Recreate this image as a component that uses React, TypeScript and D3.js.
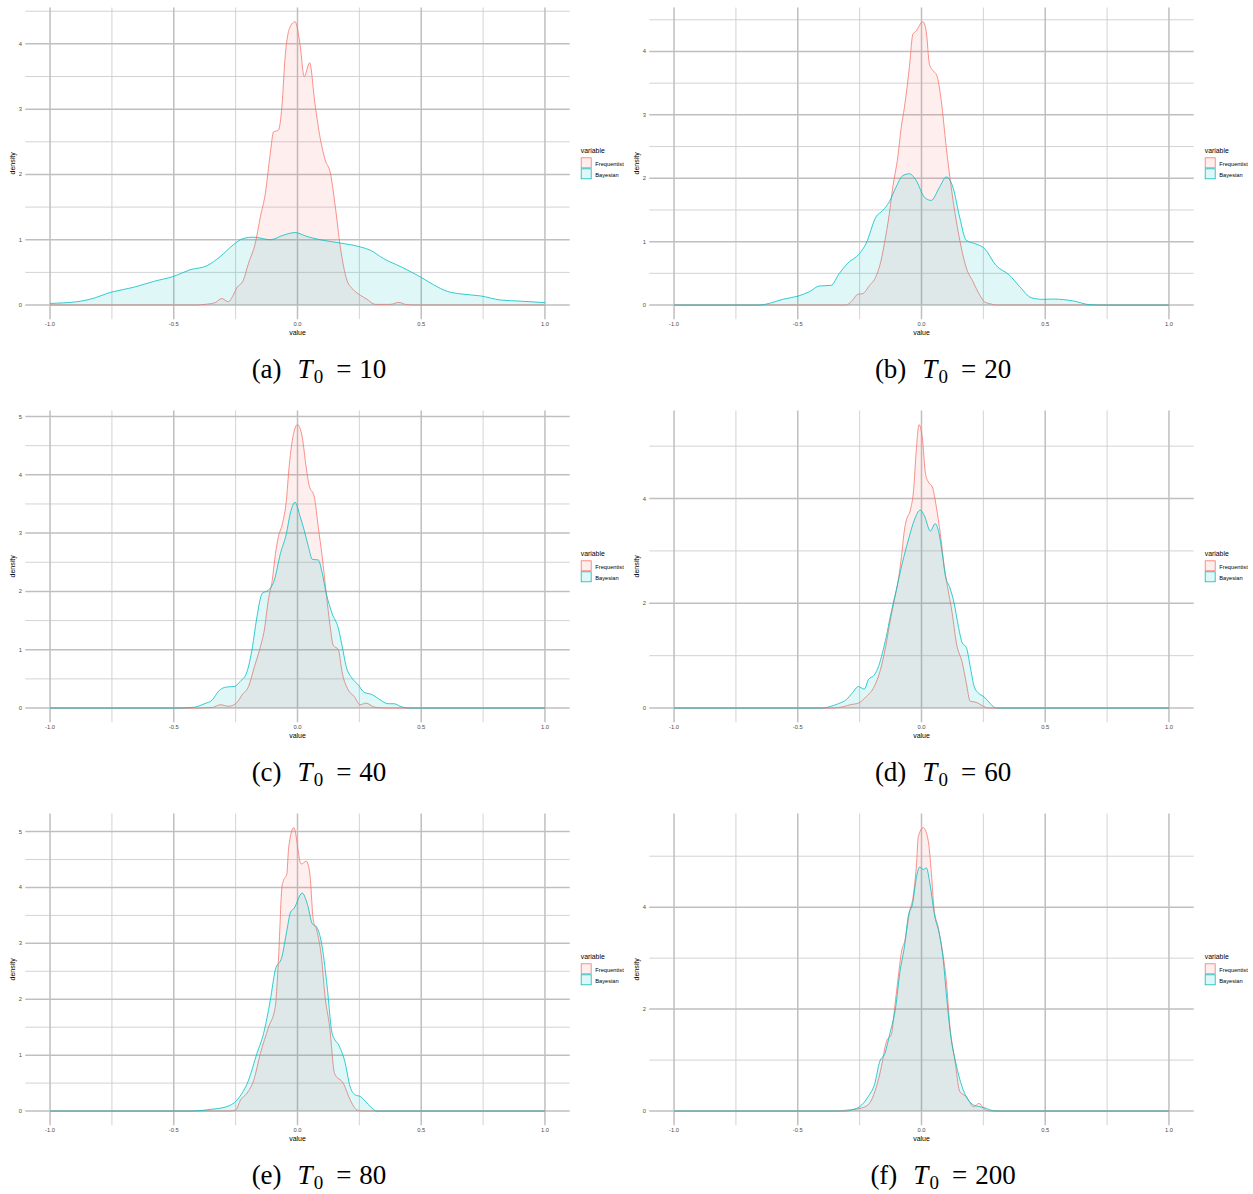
import * as d3 from "d3";

type Pt = [number, number];

// series names and colours (ggplot default hue palette)
const variables = ["Frequentist", "Bayesian"];
const colors = ["#F8766D", "#00BFC4"];

const panelLetters = ["a", "b", "c", "d", "e", "f"];
const t0Values = [10, 20, 40, 60, 80, 200];

const xTicks = [-1, -0.5, 0, 0.5, 1];
const xTickLabels = ["-1.0", "-0.5", "0.0", "0.5", "1.0"];
const xMinor = [-0.75, -0.25, 0.25, 0.75];

const yTicksA = [0, 1, 2, 3, 4];
const yTicksB = [0, 1, 2, 3, 4];
const yTicksC = [0, 1, 2, 3, 4, 5];
const yTicksD = [0, 2, 4];
const yTicksE = [0, 1, 2, 3, 4, 5];
const yTicksF = [0, 2, 4];

// density curves: [value, density]
const freqA: Pt[] = [
  [-1, 0], [-0.41, 0], [-0.374, 0.01], [-0.333, 0.036], [-0.306, 0.1], [-0.28, 0.05], [-0.26, 0.15],
  [-0.246, 0.26], [-0.219, 0.38], [-0.198, 0.64], [-0.171, 0.94], [-0.15, 1.35], [-0.13, 1.71],
  [-0.11, 2.32], [-0.097, 2.65], [-0.077, 2.68], [-0.063, 3.04], [-0.05, 3.8], [-0.03, 4.26],
  [-0.01, 4.34], [0.01, 4.0], [0.027, 3.5], [0.049, 3.71], [0.07, 3.1], [0.092, 2.55], [0.112, 2.22],
  [0.133, 2.02], [0.153, 1.5], [0.173, 0.89], [0.2, 0.38], [0.227, 0.23], [0.254, 0.15], [0.28, 0.09],
  [0.314, 0.01], [0.375, 0.01], [0.41, 0.04], [0.436, 0.01], [0.47, 0], [1, 0],
];
const bayesA: Pt[] = [
  [-1, 0.025], [-0.893, 0.05], [-0.84, 0.087], [-0.75, 0.2], [-0.664, 0.27], [-0.583, 0.36],
  [-0.5, 0.44], [-0.434, 0.54], [-0.367, 0.6], [-0.313, 0.74], [-0.26, 0.92], [-0.219, 1.02],
  [-0.178, 1.04], [-0.11, 1.0], [-0.057, 1.07], [-0.01, 1.11], [0.038, 1.05], [0.092, 1.0],
  [0.173, 0.95], [0.254, 0.89], [0.294, 0.84], [0.348, 0.71], [0.416, 0.59], [0.497, 0.43],
  [0.55, 0.31], [0.605, 0.21], [0.66, 0.17], [0.74, 0.14], [0.82, 0.077], [0.9, 0.06], [1, 0.036],
];

const freqB: Pt[] = [
  [-1, 0], [-0.305, 0], [-0.278, 0.08], [-0.258, 0.17], [-0.238, 0.18], [-0.21, 0.31], [-0.184, 0.45],
  [-0.163, 0.71], [-0.15, 0.97], [-0.13, 1.44], [-0.116, 1.86], [-0.096, 2.33], [-0.082, 2.8],
  [-0.069, 3.12], [-0.049, 3.75], [-0.035, 4.27], [-0.022, 4.32], [0.005, 4.47], [0.019, 4.32],
  [0.032, 3.8], [0.046, 3.7], [0.062, 3.62], [0.08, 3.22], [0.1, 2.49], [0.12, 1.86], [0.14, 1.34],
  [0.16, 0.92], [0.18, 0.6], [0.208, 0.37], [0.235, 0.16], [0.255, 0.05], [0.282, 0.016], [0.3, 0], [1, 0],
];
const bayesB: Pt[] = [
  [-1, 0], [-0.656, 0], [-0.615, 0.026], [-0.561, 0.09], [-0.5, 0.14], [-0.453, 0.21], [-0.413, 0.3],
  [-0.366, 0.31], [-0.332, 0.5], [-0.298, 0.66], [-0.251, 0.81], [-0.224, 0.97], [-0.184, 1.39],
  [-0.157, 1.49], [-0.13, 1.63], [-0.103, 1.86], [-0.076, 2.04], [-0.049, 2.07], [-0.022, 1.97],
  [0.012, 1.7], [0.039, 1.65], [0.073, 1.86], [0.1, 2.02], [0.127, 1.86], [0.154, 1.39], [0.181, 1.02],
  [0.215, 0.97], [0.255, 0.89], [0.3, 0.63], [0.356, 0.47], [0.397, 0.29], [0.444, 0.115], [0.49, 0.09],
  [0.534, 0.094], [0.615, 0.063], [0.68, 0.005], [0.72, 0], [1, 0],
];

const freqC: Pt[] = [
  [-1, 0], [-0.408, 0], [-0.344, 0.01], [-0.311, 0.057], [-0.279, 0.03], [-0.247, 0.085], [-0.223, 0.23],
  [-0.198, 0.37], [-0.174, 0.71], [-0.15, 1.05], [-0.134, 1.34], [-0.118, 1.85], [-0.102, 2.19],
  [-0.089, 2.65], [-0.077, 2.94], [-0.061, 3.16], [-0.045, 3.56], [-0.034, 4.13], [-0.021, 4.59],
  [0, 4.86], [0.019, 4.65], [0.035, 4.13], [0.047, 3.82], [0.068, 3.62], [0.084, 3.1], [0.1, 2.59],
  [0.116, 1.97], [0.132, 1.4], [0.144, 1.08], [0.165, 1.0], [0.181, 0.6], [0.205, 0.31], [0.229, 0.2],
  [0.253, 0.057], [0.277, 0.085], [0.31, 0.017], [0.35, 0], [1, 0],
];
const bayesC: Pt[] = [
  [-1, 0], [-0.49, 0], [-0.424, 0.01], [-0.376, 0.074], [-0.344, 0.14], [-0.319, 0.29], [-0.287, 0.36],
  [-0.255, 0.37], [-0.231, 0.46], [-0.206, 0.6], [-0.182, 1.05], [-0.166, 1.51], [-0.142, 1.97],
  [-0.118, 2.02], [-0.094, 2.19], [-0.069, 2.65], [-0.045, 2.99], [-0.029, 3.34], [-0.01, 3.53],
  [0.011, 3.28], [0.027, 3.05], [0.044, 2.77], [0.06, 2.55], [0.084, 2.54], [0.1, 2.31], [0.116, 1.97],
  [0.14, 1.62], [0.165, 1.37], [0.181, 1.05], [0.197, 0.71], [0.221, 0.51], [0.245, 0.4], [0.269, 0.27],
  [0.302, 0.23], [0.334, 0.14], [0.366, 0.074], [0.39, 0.074], [0.415, 0.03], [0.447, 0], [1, 0],
];

const freqD: Pt[] = [
  [-1, 0], [-0.368, 0], [-0.312, 0.03], [-0.288, 0.063], [-0.255, 0.095], [-0.223, 0.22], [-0.191, 0.41],
  [-0.166, 0.73], [-0.145, 1.17], [-0.126, 1.68], [-0.11, 2.06], [-0.094, 2.44], [-0.081, 2.89],
  [-0.069, 3.4], [-0.061, 3.59], [-0.045, 3.78], [-0.032, 4.16], [-0.021, 4.92], [-0.01, 5.41],
  [0.003, 5.17], [0.016, 4.48], [0.027, 4.32], [0.044, 4.22], [0.06, 3.84], [0.076, 3.33], [0.092, 2.7],
  [0.105, 2.32], [0.124, 1.81], [0.141, 1.24], [0.165, 0.86], [0.181, 0.48], [0.197, 0.13], [0.221, 0.11],
  [0.246, 0.044], [0.27, 0], [1, 0],
];
const bayesD: Pt[] = [
  [-1, 0], [-0.4, 0], [-0.368, 0.03], [-0.336, 0.083], [-0.304, 0.16], [-0.279, 0.29], [-0.255, 0.41],
  [-0.231, 0.36], [-0.215, 0.54], [-0.191, 0.63], [-0.174, 0.79], [-0.158, 1.05], [-0.142, 1.37],
  [-0.126, 1.75], [-0.102, 2.25], [-0.078, 2.76], [-0.053, 3.21], [-0.029, 3.59], [-0.005, 3.78],
  [0.011, 3.68], [0.036, 3.38], [0.055, 3.52], [0.071, 3.33], [0.084, 2.95], [0.097, 2.51], [0.113, 2.32],
  [0.132, 2.0], [0.149, 1.56], [0.165, 1.24], [0.181, 1.16], [0.197, 0.79], [0.213, 0.41], [0.229, 0.29],
  [0.254, 0.21], [0.278, 0.083], [0.302, 0], [1, 0],
];

const freqE: Pt[] = [
  [-1, 0], [-0.27, 0], [-0.25, 0.02], [-0.23, 0.2], [-0.204, 0.32], [-0.177, 0.55], [-0.15, 1.03],
  [-0.117, 1.5], [-0.09, 1.86], [-0.077, 2.7], [-0.063, 4.0], [-0.057, 4.12], [-0.043, 4.24],
  [-0.036, 4.7], [-0.015, 5.07], [0.015, 4.42], [0.036, 4.47], [0.05, 4.24], [0.064, 3.41], [0.078, 3.23],
  [0.098, 2.7], [0.11, 2.1], [0.13, 1.5], [0.15, 0.67], [0.186, 0.49], [0.213, 0.2], [0.24, 0.02],
  [0.26, 0], [1, 0],
];
const bayesE: Pt[] = [
  [-1, 0], [-0.43, 0], [-0.35, 0.03], [-0.285, 0.08], [-0.238, 0.23], [-0.198, 0.55], [-0.164, 1.03],
  [-0.137, 1.39], [-0.11, 1.98], [-0.09, 2.52], [-0.063, 2.76], [-0.043, 3.23], [-0.028, 3.56],
  [-0.015, 3.62], [0.019, 3.9], [0.04, 3.7], [0.06, 3.35], [0.078, 3.29], [0.1, 2.93], [0.12, 2.22],
  [0.14, 1.39], [0.17, 1.15], [0.19, 0.91], [0.213, 0.43], [0.233, 0.29], [0.254, 0.26], [0.294, 0.08],
  [0.32, 0], [1, 0],
];

const freqF: Pt[] = [
  [-1, 0], [-0.34, 0], [-0.3, 0.02], [-0.25, 0.05], [-0.216, 0.12], [-0.182, 0.48], [-0.162, 0.87],
  [-0.142, 1.36], [-0.121, 1.52], [-0.108, 2.05], [-0.094, 2.63], [-0.081, 3.12], [-0.067, 3.35],
  [-0.047, 3.94], [-0.034, 4.2], [-0.02, 4.86], [-0.013, 5.38], [0.007, 5.56], [0.027, 5.31],
  [0.04, 4.66], [0.05, 4.0], [0.067, 3.61], [0.088, 3.03], [0.1, 2.57], [0.115, 1.65], [0.135, 1.0],
  [0.155, 0.38], [0.182, 0.28], [0.21, 0.085], [0.233, 0.15], [0.252, 0.05], [0.277, 0], [1, 0],
];
const bayesF: Pt[] = [
  [-1, 0], [-0.3, 0], [-0.277, 0.03], [-0.25, 0.085], [-0.216, 0.28], [-0.189, 0.54], [-0.169, 0.97],
  [-0.148, 1.13], [-0.128, 1.52], [-0.104, 2.05], [-0.088, 2.7], [-0.067, 3.29], [-0.054, 3.81],
  [-0.036, 4.07], [-0.02, 4.6], [-0.007, 4.79], [0.007, 4.74], [0.02, 4.77], [0.034, 4.46], [0.054, 3.81],
  [0.072, 3.48], [0.088, 2.96], [0.1, 2.31], [0.117, 1.52], [0.142, 0.87], [0.169, 0.41], [0.21, 0.12],
  [0.25, 0.07], [0.3, 0], [1, 0],
];

const panels = [
  { freq: freqA, bayes: bayesA, yTicks: yTicksA },
  { freq: freqB, bayes: bayesB, yTicks: yTicksB },
  { freq: freqC, bayes: bayesC, yTicks: yTicksC },
  { freq: freqD, bayes: bayesD, yTicks: yTicksD },
  { freq: freqE, bayes: bayesE, yTicks: yTicksE },
  { freq: freqF, bayes: bayesF, yTicks: yTicksF },
];

const W = 1253;
const H = 1194;
const COL_STEP = 624;
const ROW_STEP = 403;
const LEFT = 25.3;
const RIGHT = 569.7;
const TOP = 7.5;
const BOTTOM = 319.2;
const FILL_ALPHA = 0.12;
const SANS = "'Liberation Sans', Arial, Helvetica, sans-serif";
const SERIF = "'Liberation Serif', 'DejaVu Serif', serif";

const MAJOR = "#bfbfbf";
const MINOR = "#cecece";

function minorBreaks(ticks: number[]) {
  const step = ticks[1] - ticks[0];
  const out: number[] = [];
  for (let i = -1; i < ticks.length; i++) out.push(ticks[0] + (i + 0.5) * step);
  return out;
}

function Panel({ idx }: { idx: number }) {
  const p = panels[idx];
  const col = idx % 2;
  const row = Math.floor(idx / 2);
  const series = [p.freq, p.bayes];
  const ymax = d3.max(series.flat(), (d) => d[1]) as number;

  const x = d3.scaleLinear().domain([-1.1, 1.1]).range([LEFT, RIGHT]);
  const y = d3.scaleLinear().domain([-0.05 * ymax, 1.05 * ymax]).range([BOTTOM, TOP]);
  const [y0, y1] = y.domain();
  const yMinor = minorBreaks(p.yTicks).filter((v) => v > y0 && v < y1);

  const area = d3
    .area<Pt>()
    .x((d) => x(d[0]))
    .y0(y(0))
    .y1((d) => y(d[1]))
    .curve(d3.curveMonotoneX);
  const line = d3
    .line<Pt>()
    .x((d) => x(d[0]))
    .y((d) => y(d[1]))
    .curve(d3.curveMonotoneX);

  const midY = (TOP + BOTTOM) / 2;
  const legX = 580.7;
  const capX = 319;

  return (
    <g transform={`translate(${col * COL_STEP},${row * ROW_STEP})`}>
      {/* grid */}
      {yMinor.map((v) => (
        <line key={"ym" + v} x1={LEFT} x2={RIGHT} y1={y(v)} y2={y(v)} stroke={MINOR} strokeWidth={0.9} />
      ))}
      {xMinor.map((v) => (
        <line key={"xm" + v} x1={x(v)} x2={x(v)} y1={TOP} y2={BOTTOM} stroke={MINOR} strokeWidth={0.9} />
      ))}
      {p.yTicks.map((v) => (
        <line key={"yM" + v} x1={LEFT} x2={RIGHT} y1={y(v)} y2={y(v)} stroke={MAJOR} strokeWidth={1.5} />
      ))}
      {xTicks.map((v) => (
        <line key={"xM" + v} x1={x(v)} x2={x(v)} y1={TOP} y2={BOTTOM} stroke={MAJOR} strokeWidth={1.5} />
      ))}

      {/* densities */}
      {series.map((s, i) => (
        <g key={variables[i]}>
          <path d={area(s) || ""} fill={colors[i]} fillOpacity={FILL_ALPHA} stroke="none" />
          <path d={line(s) || ""} fill="none" stroke={colors[i]} strokeWidth={0.8} />
        </g>
      ))}

      {/* axes text */}
      {p.yTicks.map((v) => (
        <text key={"yl" + v} x={22} y={y(v) + 2} textAnchor="end" fontSize={5.8} fill="#4d4d4d" fontFamily={SANS}>
          {v}
        </text>
      ))}
      {xTicks.map((v, i) => (
        <text key={"xl" + v} x={x(v)} y={326} textAnchor="middle" fontSize={5.8} fill="#4d4d4d" fontFamily={SANS}>
          {xTickLabels[i]}
        </text>
      ))}
      <text x={x(0)} y={334.5} textAnchor="middle" fontSize={7} fill="#000" fontFamily={SANS}>
        value
      </text>
      <text
        transform={`translate(15,${midY}) rotate(-90)`}
        textAnchor="middle"
        fontSize={7}
        fill="#000"
        fontFamily={SANS}
      >
        density
      </text>

      {/* legend */}
      <text x={legX} y={152.7} fontSize={6.9} fill="#000" fontFamily={SANS}>
        variable
      </text>
      {variables.map((name, i) => (
        <g key={"lg" + name}>
          <rect
            x={legX + 0.5}
            y={157.8 + i * 11}
            width={10}
            height={10}
            fill={colors[i]}
            fillOpacity={FILL_ALPHA}
            stroke={colors[i]}
            strokeWidth={0.8}
          />
          <text x={595.3} y={165.5 + i * 11} fontSize={5.7} fill="#000" fontFamily={SANS}>
            {name}
          </text>
        </g>
      ))}

      {/* caption */}
      <text x={capX} y={378} textAnchor="middle" fontSize={27} fill="#000" fontFamily={SERIF}>
        <tspan>{`(${panelLetters[idx]})`}</tspan>
        <tspan dx={16} fontStyle="italic">T</tspan>
        <tspan dx={1} dy={5} fontSize={19}>0</tspan>
        <tspan dx={13} dy={-5}>=</tspan>
        <tspan dx={8}>{t0Values[idx]}</tspan>
      </text>
    </g>
  );
}

export default function App() {
  return (
    <div style={{ position: "absolute", left: 0, top: 0, width: W, height: H, background: "#fff" }}>
      <svg width={W} height={H} viewBox={`0 0 ${W} ${H}`} style={{ display: "block" }}>
        <rect width={W} height={H} fill="#fff" />
        {panels.map((_, i) => (
          <Panel key={i} idx={i} />
        ))}
      </svg>
    </div>
  );
}
